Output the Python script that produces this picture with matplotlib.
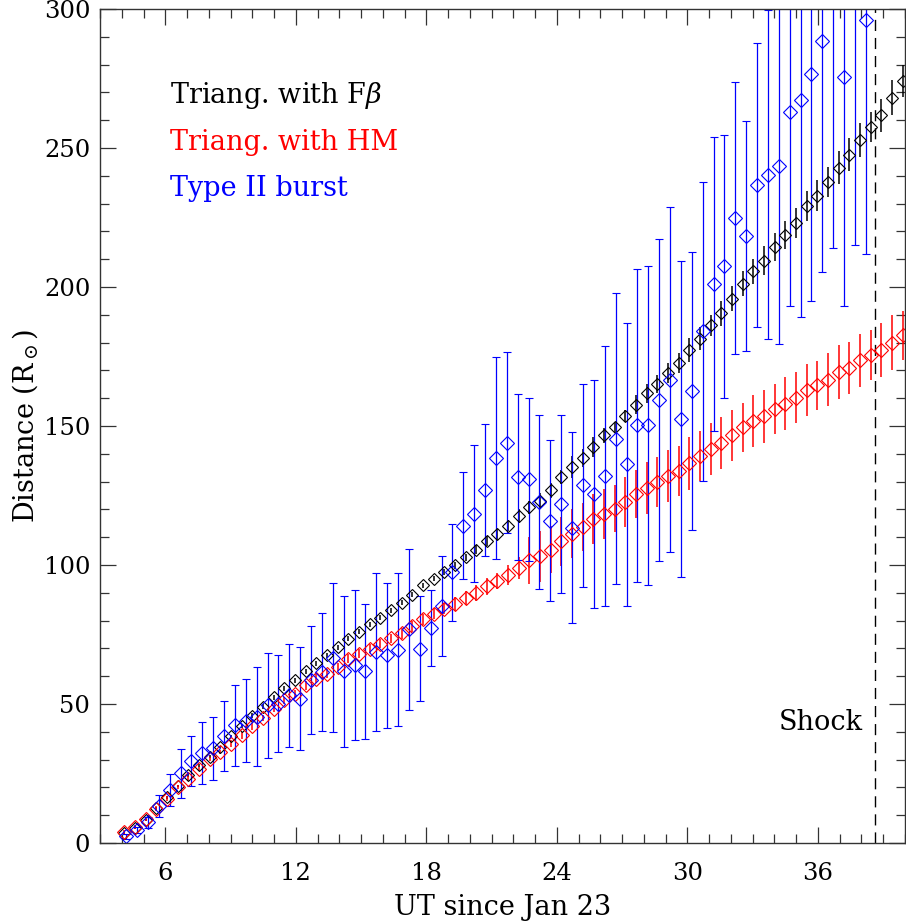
import matplotlib
matplotlib.use("Agg")
import matplotlib.pyplot as plt
from matplotlib.ticker import MultipleLocator

plt.rcParams["font.family"] = "DejaVu Serif"
plt.rcParams["mathtext.fontset"] = "dejavuserif"

# time of the triangulation points (hours since Jan 23, 00 UT)
t_tri = [4.12, 4.61, 5.10, 5.59, 6.08, 6.57, 7.06, 7.55, 8.04, 8.53,
         9.02, 9.51, 10.00, 10.49, 10.98, 11.47, 11.96, 12.45, 12.94, 13.43,
         13.92, 14.41, 14.90, 15.39, 15.88, 16.37, 16.86, 17.35, 17.84, 18.33,
         18.82, 19.31, 19.80, 20.29, 20.78, 21.27, 21.76, 22.25, 22.74, 23.23,
         23.72, 24.21, 24.70, 25.19, 25.68, 26.17, 26.66, 27.15, 27.64, 28.13,
         28.62, 29.11, 29.60, 30.09, 30.58, 31.07, 31.56, 32.05, 32.54, 33.03,
         33.52, 34.01, 34.50, 34.99, 35.48, 35.97, 36.46, 36.95, 37.44, 37.93,
         38.42, 38.91, 39.40, 39.89]

# triangulation with F-beta (black)
d_fb = [3.5, 5.5, 8.3, 12.5, 16.5, 20.5, 24.3, 27.9, 31.0, 34.5,
        38.5, 42.0, 45.7, 49.1, 52.5, 55.7, 58.5, 61.7, 64.6, 67.6,
        70.4, 73.5, 76.0, 78.6, 81.1, 83.7, 86.4, 89.3, 92.7, 95.1,
        97.4, 99.9, 102.8, 105.5, 108.5, 111.0, 114.2, 117.6, 120.8, 123.0,
        126.8, 131.6, 135.2, 138.4, 142.4, 146.6, 149.5, 153.7, 157.7, 161.7,
        165.1, 169.0, 172.8, 177.3, 181.4, 186.2, 190.6, 195.8, 201.2, 205.7,
        209.5, 214.3, 218.8, 222.9, 229.1, 232.9, 237.7, 242.9, 247.6, 252.9,
        257.5, 261.7, 268.0, 274.2]
e_fb = [0.5, 0.5, 0.5, 0.5, 0.5, 0.5, 0.5, 0.5, 0.5, 0.5,
        0.5, 0.5, 0.9, 0.9, 0.9, 0.9, 0.9, 0.9, 0.9, 0.9,
        0.9, 0.9, 0.9, 0.9, 0.9, 0.9, 0.9, 0.9, 1.0, 1.0,
        1.1, 1.2, 1.2, 1.6, 1.8, 2.0, 2.1, 2.4, 2.4, 3.0,
        2.7, 2.5, 3.9, 3.3, 3.6, 2.7, 2.1, 2.1, 3.4, 3.3,
        3.3, 3.6, 3.6, 4.2, 4.2, 3.9, 4.5, 4.6, 4.5, 4.5,
        5.1, 5.1, 5.1, 5.4, 5.4, 5.5, 5.4, 6.0, 6.0, 6.0,
        5.4, 6.0, 6.3, 5.7]

# triangulation with harmonic mean (red)
d_hm = [4.0, 5.8, 8.6, 12.4, 16.0, 20.1, 23.2, 26.7, 30.3, 32.7,
        35.7, 38.7, 42.0, 45.0, 48.3, 51.3, 53.7, 56.7, 59.1, 60.9,
        63.3, 66.3, 68.1, 69.9, 71.7, 73.7, 75.5, 77.9, 80.5, 82.5,
        84.3, 86.1, 88.2, 90.0, 92.3, 94.2, 96.3, 99.0, 101.7, 103.1,
        105.5, 108.5, 111.3, 113.6, 116.6, 118.4, 120.2, 122.6, 125.5, 127.7,
        129.8, 132.0, 133.9, 136.6, 139.2, 141.8, 144.0, 146.6, 149.5, 151.7,
        153.5, 156.2, 158.0, 160.2, 163.0, 164.6, 166.7, 169.4, 170.9, 173.6,
        175.4, 177.4, 179.9, 182.6]
e_hm = [0.8, 0.8, 0.8, 0.8, 0.8, 0.8, 0.8, 0.8, 0.8, 0.8,
        1.2, 1.2, 1.2, 1.2, 1.2, 1.2, 1.2, 1.6, 1.6, 1.6,
        1.6, 1.6, 1.6, 1.6, 1.6, 1.6, 2.0, 2.0, 2.0, 2.0,
        2.0, 2.5, 2.5, 2.8, 3.0, 3.0, 3.6, 3.9, 8.4, 9.3,
        8.5, 8.7, 8.7, 8.7, 9.0, 9.0, 8.4, 9.0, 8.7, 9.3,
        9.0, 9.3, 9.0, 9.6, 9.0, 9.3, 9.3, 9.3, 8.7, 9.3,
        9.6, 9.0, 9.6, 9.3, 9.3, 8.7, 9.6, 9.6, 9.3, 9.6,
        9.0, 9.6, 9.9, 8.7]

# type II burst (blue)
t_burst = [4.2, 4.7, 5.2, 5.7, 6.2, 6.7, 7.2, 7.7, 8.2, 8.7,
           9.2, 9.7, 10.2, 10.7, 11.2, 11.7, 12.2, 12.7, 13.2, 13.7,
           14.2, 14.7, 15.2, 15.7, 16.2, 16.7, 17.2, 17.7, 18.2, 18.7,
           19.2, 19.7, 20.2, 20.7, 21.2, 21.7, 22.2, 22.7, 23.2, 23.7,
           24.2, 24.7, 25.2, 25.7, 26.2, 26.7, 27.2, 27.7, 28.2, 28.7,
           29.2, 29.7, 30.2, 30.7, 31.2, 31.7, 32.2, 32.7, 33.2, 33.7,
           34.2, 34.7, 35.2, 35.7, 36.2, 36.7, 37.2, 37.7, 38.2]
d_burst = [2.4, 4.6, 7.4, 13.2, 19.0, 25.1, 29.5, 32.3, 34.0, 38.4,
           42.3, 44.0, 45.5, 49.5, 50.1, 53.1, 51.9, 58.5, 61.5, 66.7,
           61.7, 63.9, 61.7, 68.7, 67.5, 69.6, 76.8, 69.9, 77.3, 85.1,
           97.4, 114.2, 118.4, 127.1, 138.4, 144.0, 131.6, 130.8, 122.6, 116.0,
           122.0, 113.4, 128.6, 125.6, 131.9, 145.4, 136.2, 150.2, 150.2, 159.2,
           166.7, 152.6, 162.5, 184.0, 201.2, 207.4, 224.9, 218.2, 236.7, 240.4,
           243.4, 262.9, 267.1, 276.7, 288.6, 310.0, 275.4, 305.0, 296.1]
e_burst = [0.8, 1.0, 2.0, 3.9, 5.7, 8.8, 9.0, 11.2, 11.3, 12.6,
           14.7, 14.9, 17.8, 19.0, 17.4, 18.6, 18.6, 19.4, 21.3, 26.8,
           27.3, 27.0, 24.4, 28.4, 26.2, 27.6, 28.8, 18.9, 13.8, 18.0,
           17.5, 19.3, 24.6, 23.7, 36.4, 32.6, 29.8, 29.4, 31.4, 29.0,
           32.0, 34.3, 36.5, 41.0, 46.7, 52.4, 50.8, 56.3, 57.3, 57.9,
           62.0, 56.9, 50.0, 53.7, 52.9, 47.2, 48.9, 41.4, 51.0, 59.2,
           63.8, 69.6, 78.0, 81.8, 83.3, 96.0, 82.3, 90.0, 84.4]

t_shock = 38.6

fig = plt.figure(figsize=(9.06, 9.24), dpi=100)
ax = fig.add_axes([100/906, 81/924, 805/906, 834/924])

ax.errorbar(t_tri, d_fb, yerr=e_fb, fmt="D", ms=6.3, mfc="none", mec="black",
            mew=0.8, ecolor="black", elinewidth=1.1, capsize=0)
ax.errorbar(t_tri, d_hm, yerr=e_hm, fmt="D", ms=7.0, mfc="none", mec="red",
            mew=0.8, ecolor="red", elinewidth=1.1, capsize=0)
ax.errorbar(t_burst, d_burst, yerr=e_burst, fmt="D", ms=7.6, mfc="none",
            mec="blue", mew=0.8, ecolor="blue", elinewidth=0.9,
            capsize=3.2, capthick=0.9)

ax.axvline(t_shock, color="black", lw=1.0, dashes=(8, 5))
ax.text(38.05, 43.5, "Shock", ha="right", va="center", fontsize=19.5)

ax.text(0.087, 0.896, r"Triang. with F$\beta$", transform=ax.transAxes,
        color="black", fontsize=19.5, va="center")
ax.text(0.087, 0.8405, "Triang. with HM", transform=ax.transAxes,
        color="red", fontsize=19.5, va="center")
ax.text(0.087, 0.785, "Type II burst", transform=ax.transAxes,
        color="blue", fontsize=19.5, va="center")

ax.set_xlim(3, 40)
ax.set_ylim(0, 300)
ax.set_xticks([6, 12, 18, 24, 30, 36])
ax.xaxis.set_minor_locator(MultipleLocator(1))
ax.set_yticks([0, 50, 100, 150, 200, 250, 300])
ax.yaxis.set_minor_locator(MultipleLocator(10))
ax.tick_params(which="both", direction="in", top=True, right=True,
               width=0.9, labelsize=17.5, color="#333333")
ax.tick_params(which="major", length=11.5)
ax.tick_params(which="minor", length=6.5)
ax.tick_params(axis="x", which="major", pad=14)
ax.tick_params(axis="y", which="major", pad=7)
for s in ax.spines.values():
    s.set_linewidth(1.0)
    s.set_color("#333333")

ax.set_xlabel("UT since Jan 23", fontsize=19.5, labelpad=6)
ax.set_ylabel(r"Distance (R$_\odot$)", fontsize=19.5, labelpad=3)

fig.savefig("out.png", dpi=100)
